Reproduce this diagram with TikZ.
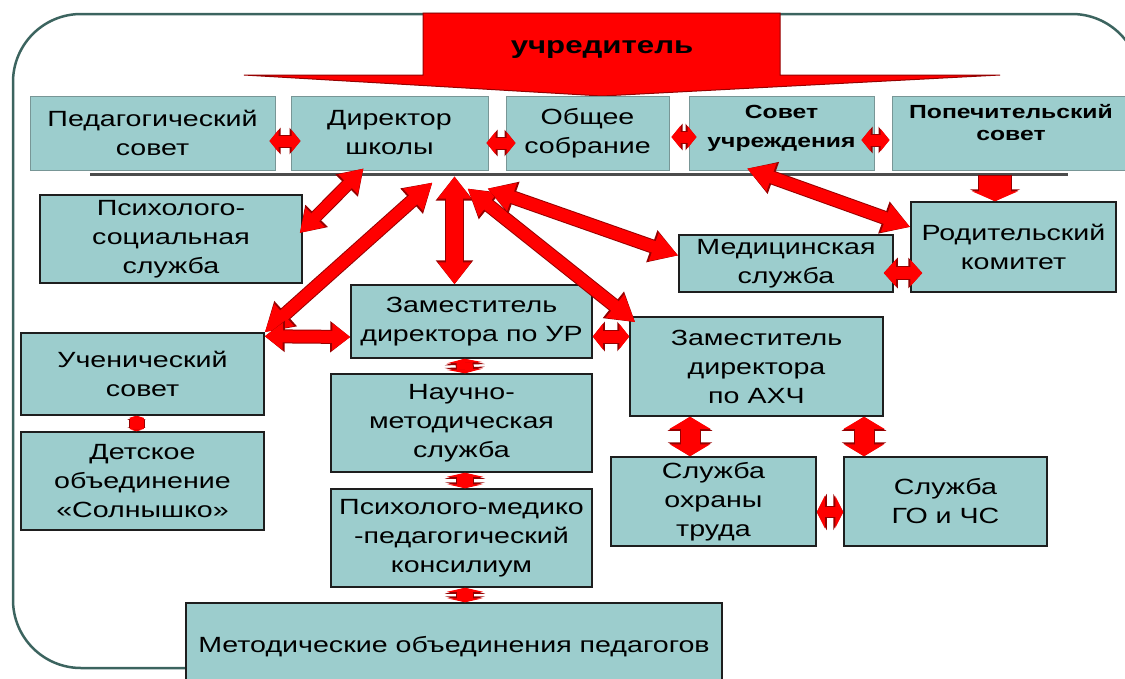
\documentclass[tikz,border=0pt]{standalone}
\usepackage{fontspec}
\setmainfont{Liberation Sans}[FakeStretch=1.3]
\usetikzlibrary{arrows.meta}
\definecolor{boxfill}{RGB}{156,205,205}
\definecolor{boxedge}{RGB}{30,30,30}
\definecolor{rowedge}{RGB}{120,150,150}
\definecolor{framecol}{RGB}{60,100,95}
\definecolor{arrowred}{RGB}{255,0,0}
\definecolor{arrowdark}{RGB}{150,0,0}
\tikzset{orgbox/.style={draw=boxedge,fill=boxfill,line width=1.5pt,inner sep=0,align=center,font=\fontsize{22}{29}\selectfont},
    rowbox/.style={orgbox,draw=rowedge,line width=1pt},
    boldtext/.style={font=\bfseries\fontsize{19}{29}\selectfont,align=center,inner sep=0},
    shelf/.style={draw=black!70,line width=3pt},
    outerframe/.style={draw=framecol,line width=2.5pt,rounded corners=68pt}
}
\newcommand{\blockarrow}[5]
{
% args: (from, to, shaft width, head width, head length)
    \pgfmathsetlengthmacro\edgeshaft{#3+2}
    \pgfmathsetlengthmacro\edgehead{#4+4}
    \pgfmathsetlengthmacro\edgetip{#5+2}
    \draw [arrowdark,line width=\edgeshaft,{Triangle[width=\edgehead,length=\edgetip]}-{Triangle[width=\edgehead,length=\edgetip]}] #1 -- #2;
    \draw [arrowred,line width=#3pt,{Triangle[width=#4pt,length=#5pt]}-{Triangle[width=#4pt,length=#5pt]}] #1 -- #2;
}

\begin{document}
\begin{tikzpicture}[x=1pt,y=-1pt]

\useasboundingbox (0,0) rectangle (1125,678);
\clip (0,0) rectangle (1125,678);

% frame and founder
\draw [outerframe] (186,668) -- (13,668) -- (13,14) -- (1140,14) -- (1140,400);

\filldraw [fill=arrowred,draw=arrowdark,line width=1pt] (423,13) -- (780,13) -- (780,75) -- (1000,75) -- (602,96) -- (244,75) -- (423,75) -- cycle;
\node (founder) [boldtext,font=\bfseries\fontsize{24}{28}\selectfont] at (602,50) {учредитель};

% top row
\node (ped) [rowbox,minimum width=245,minimum height=74] at (152.5,133) {Педагогический\\совет};
\node (dir) [rowbox,minimum width=197,minimum height=74] at (389.5,133) {Директор\\школы};
\node (obsh) [rowbox,minimum width=163,minimum height=74] at (587.5,133) {Общее\\собрание};
\node (sovuch) [rowbox,minimum width=185,minimum height=74,
    label={[boldtext,yshift=5pt]center:{Совет\\учреждения}}] at (781.5,133) {};
\node (popech) [rowbox,minimum width=238,minimum height=74,
    label={[boldtext,font=\bfseries\fontsize{19}{22}\selectfont,yshift=10pt]center:{Попечительский\\совет}}] at (1011,133) {};

\draw [shelf] (90,174) -- (1068,174);

% services
\node (psy) [orgbox,minimum width=262,minimum height=88] at (171,239) {Психолого-\\социальная\\служба};
\node (med) [orgbox,minimum width=214,minimum height=57] at (786,263.5) {Медицинская\\служба};
\node (rod) [orgbox,minimum width=205,minimum height=90] at (1013.5,247) {Родительский\\комитет};
\node (uch) [orgbox,minimum width=243,minimum height=82] at (142.5,374) {Ученический\\совет};
\node (det) [orgbox,minimum width=243,minimum height=98] at (142.5,481) {Детское\\объединение\\«Солнышко»};
\node (zamur) [orgbox,minimum width=241,minimum height=73] at (471.5,321.5) {Заместитель\\директора по УР};
\node (nauch) [orgbox,minimum width=261,minimum height=98] at (461.5,423) {Научно-\\методическая\\служба};
\node (ppk) [orgbox,minimum width=261,minimum height=98] at (461.5,538) {Психолого-медико\\-педагогический\\консилиум};
\node (metod) [orgbox,minimum width=536,minimum height=87] at (454,646.5) {Методические объединения педагогов};
\node (zamax) [orgbox,minimum width=253,minimum height=99] at (756.5,366.5) {Заместитель\\директора\\по АХЧ};
\node (ohr) [orgbox,minimum width=205,minimum height=89] at (713.5,501.5) {Служба\\охраны\\труда};
\node (go) [orgbox,minimum width=203,minimum height=89] at (945.5,501.5) {Служба\\ГО и ЧС};

% links of the top row
\blockarrow{([xshift=-6pt,yshift=-8pt]ped.east)}{([xshift=10pt,yshift=-8pt]dir.west)}{11}{22}{9}
\blockarrow{([xshift=-2pt,yshift=-10pt]dir.east)}{([xshift=10pt,yshift=-10pt]obsh.west)}{11}{22}{9}
\blockarrow{([xshift=2pt,yshift=-4pt]obsh.east)}{([xshift=8pt,yshift=-4pt]sovuch.west)}{11}{22}{9}
\blockarrow{([xshift=-13pt,yshift=-7pt]sovuch.east)}{([xshift=-2pt,yshift=-7pt]popech.west)}{11}{22}{9}

% links of the director
\blockarrow{([xshift=-3pt,yshift=6pt]psy.east)}{([xshift=-26pt,yshift=2pt]dir.south)}{11}{26}{22}
\blockarrow{(uch.north east)}{([xshift=43pt,yshift=-12pt]dir.south)}{12}{28}{26}
\blockarrow{([xshift=-17pt]zamur.north)}{([xshift=65pt,yshift=-6pt]dir.south)}{17}{32}{22}
\blockarrow{([xshift=6pt,yshift=-6pt]zamax.north west)}{([xshift=78pt,yshift=-18pt]dir.south)}{12}{28}{26}
\blockarrow{([yshift=8pt]med.west)}{([xshift=98pt,yshift=-18pt]dir.south)}{12}{28}{26}

% links of the deputies
\blockarrow{([yshift=-4pt]uch.north east)}{([yshift=-15.5pt]zamur.west)}{12}{26}{18}
\blockarrow{([yshift=-15pt]zamur.east)}{([yshift=30pt]zamax.west)}{12}{25}{10}
\blockarrow{([xshift=-7pt]zamur.south)}{([xshift=3.5pt]nauch.north)}{16}{36}{4}
\blockarrow{([xshift=3.5pt]nauch.south)}{([xshift=3.5pt]ppk.north)}{16}{36}{4}
\blockarrow{([xshift=3.5pt]ppk.south)}{([xshift=11pt]metod.north)}{16}{36}{4}
\blockarrow{([xshift=-6pt]uch.south)}{([xshift=-6pt]det.north)}{14}{14}{2}
\blockarrow{([xshift=-66.5pt]zamax.south)}{([xshift=-23.5pt]ohr.north)}{19}{40}{12}
\blockarrow{([xshift=107.5pt]zamax.south)}{([xshift=-81.5pt]go.north)}{19}{40}{12}
\blockarrow{([yshift=-10.5pt]ohr.east)}{([yshift=-10.5pt]go.west)}{10}{32}{8}

% links of the councils
\blockarrow{([xshift=-34.5pt,yshift=2pt]sovuch.south)}{([yshift=20pt]rod.west)}{12}{28}{26}
\blockarrow{([xshift=-10pt,yshift=-9.5pt]med.east)}{([xshift=12pt,yshift=-26pt]rod.west)}{12}{26}{12}
\draw [arrowdark,line width=34pt,-{Triangle[width=50pt,length=12pt]}] ([xshift=-16pt,yshift=-4pt]popech.south) -- ([xshift=-18.5pt]rod.north);
\draw [arrowred,line width=32pt,-{Triangle[width=46pt,length=10pt]}] ([xshift=-16pt,yshift=-5pt]popech.south) -- ([xshift=-18.5pt]rod.north);

\end{tikzpicture}
\end{document}
